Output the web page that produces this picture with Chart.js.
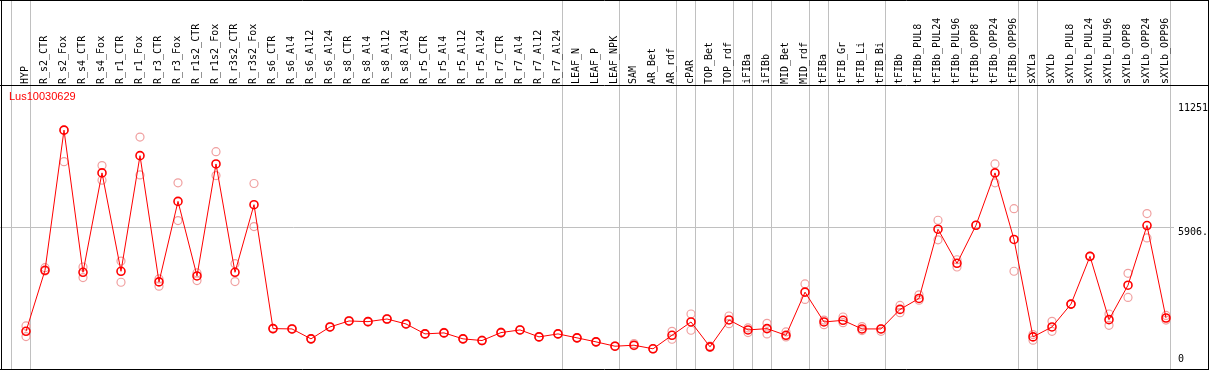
<!DOCTYPE html>
<html>
<head>
<meta charset="utf-8">
<script src="https://cdn.jsdelivr.net/npm/chart.js@4.4.1/dist/chart.umd.min.js"></script>
<style>
  html, body { margin: 0; padding: 0; background: #fff; }
  #wrap { width: 1209px; height: 370px; position: relative; }
</style>
</head>
<body>
<div id="wrap"><canvas id="chart"></canvas></div>
<script>
const GENE_ID = "Lus10030629";

const SAMPLES = [
  "HYP", "R_s2_CTR", "R_s2_Fox", "R_s4_CTR", "R_s4_Fox", "R_r1_CTR", "R_r1_Fox",
  "R_r3_CTR", "R_r3_Fox", "R_r1s2_CTR", "R_r1s2_Fox", "R_r3s2_CTR", "R_r3s2_Fox",
  "R_s6_CTR", "R_s6_Al4", "R_s6_Al12", "R_s6_Al24", "R_s8_CTR", "R_s8_Al4",
  "R_s8_Al12", "R_s8_Al24", "R_r5_CTR", "R_r5_Al4", "R_r5_Al12", "R_r5_Al24",
  "R_r7_CTR", "R_r7_Al4", "R_r7_Al12", "R_r7_Al24", "LEAF_N", "LEAF_P", "LEAF_NPK",
  "SAM", "AR_Bet", "AR_rdf", "cPAR", "TOP_Bet", "TOP_rdf", "iFIBa", "iFIBb",
  "MID_Bet", "MID_rdf", "tFIBa", "tFIB_Gr", "tFIB_Li", "tFIB_Bi", "tFIBb",
  "tFIBb_PUL8", "tFIBb_PUL24", "tFIBb_PUL96", "tFIBb_OPP8", "tFIBb_OPP24", "tFIBb_OPP96",
  "sXYLa", "sXYLb", "sXYLb_PUL8", "sXYLb_PUL24", "sXYLb_PUL96", "sXYLb_OPP8",
  "sXYLb_OPP24", "sXYLb_OPP96",
];

// mean expression per sample
const MEAN_VALUES = [
  1419, 4036, 10045, 3950, 8212, 3993, 8950, 3537, 6990, 3793, 8595, 3950, 6848,
  1534, 1521, 1095, 1606, 1862, 1833, 1947, 1734, 1308, 1351, 1095, 1023,
  1364, 1478, 1180, 1308, 1138, 966, 780,
  823, 669, 1249, 1819, 753, 1905, 1478, 1534, 1249, 3098, 1819, 1890, 1521, 1521,
  2358, 2827, 5796, 4334, 5967, 8212, 5357,
  1180, 1606, 2586, 4633, 1918, 3396, 5953, 1989,
];

// replicates (upper / lower)
const REP_HIGH = [
  1649, 4148, 10045, 4177, 8524, 4432, 9747, 3665, 7785, 3921, 9120, 4319, 7757,
  1550, 1540, 1110, 1620, 1880, 1850, 1960, 1750, 1320, 1370, 1110, 1040,
  1380, 1490, 1195, 1320, 1150, 980, 795,
  895, 680, 1419, 2161, 780, 2076, 1564, 1762, 1393, 3452, 1900, 2033, 1620, 1521,
  2529, 2983, 6180, 4488, 5967, 8595, 6678,
  1279, 1847, 2586, 4633, 2161, 3907, 6465, 2100,
];

const REP_LOW = [
  1193, 4000, 8694, 3722, 7898, 3523, 8126, 3353, 6167, 3594, 8098, 3551, 5911,
  1520, 1505, 1080, 1590, 1845, 1815, 1930, 1720, 1295, 1335, 1080, 1010,
  1350, 1465, 1165, 1295, 1125, 950, 770,
  800, 660, 1078, 1464, 730, 1747, 1364, 1308, 1180, 2785, 1705, 1790, 1450, 1420,
  2216, 2750, 5341, 4177, 5967, 7785, 3993,
  1037, 1419, 2586, 4633, 1677, 2870, 5424, 1900,
];

// samples after which a group separator is drawn (-1 = left edge)
const GROUP_BREAKS = [-1, 0, 28, 31, 34, 35, 37, 38, 39, 41, 42, 45, 52, 53, 60];

const Y_MAX = 11251;
const Y_TICKS = [0, 5906, 11251];
const Y_TICK_LABELS = ["0", "5906.", "11251"];

function hline(ctx, x1, x2, y) {
  ctx.beginPath();
  ctx.moveTo(x1, y);
  ctx.lineTo(x2, y);
  ctx.stroke();
}

function vline(ctx, x, y1, y2) {
  ctx.beginPath();
  ctx.moveTo(x, y1);
  ctx.lineTo(x, y2);
  ctx.stroke();
}

const framePlugin = {
  id: "frame",
  beforeDraw(chart) {
    const { ctx, width, height } = chart;
    const x = chart.scales.x;
    const y = chart.scales.y;
    ctx.save();
    ctx.fillStyle = "#fff";
    ctx.fillRect(0, 0, width, height);
    ctx.strokeStyle = "#c0c0c0";
    ctx.lineWidth = 1;
    GROUP_BREAKS.forEach((i) => {
      const px = Math.round(x.getPixelForValue(i) + 4) + 0.5;
      vline(ctx, px, 0, height);
    });
    const gy = Math.round(y.getPixelForValue(Y_TICKS[1])) + 0.5;
    hline(ctx, 0, x.right + 8, gy);
    ctx.restore();
  },
  afterDraw(chart) {
    const { ctx, width, height } = chart;
    const y = chart.scales.y;
    ctx.save();
    ctx.strokeStyle = "#000";
    ctx.lineWidth = 1;
    hline(ctx, 0, width, 0.5);
    hline(ctx, 0, width, 85.5);
    hline(ctx, 0, width, height - 0.5);
    vline(ctx, 1.5, 0, height);
    vline(ctx, width - 0.5, 0, height);

    ctx.fillStyle = "#ff0000";
    ctx.font = "11px 'Liberation Sans', Arial, sans-serif";
    ctx.textBaseline = "middle";
    ctx.textAlign = "left";
    ctx.fillText(GENE_ID, 9, 97);

    ctx.fillStyle = "#000";
    ctx.font = "10px 'DejaVu Sans Mono', monospace";
    Y_TICKS.forEach((v, k) => {
      const py = y.getPixelForValue(v);
      if (v === 0) {
        ctx.textBaseline = "bottom";
        ctx.fillText(Y_TICK_LABELS[k], 1178, py);
      } else {
        ctx.textBaseline = "top";
        ctx.fillText(Y_TICK_LABELS[k], 1178, py + 1);
      }
    });
    ctx.restore();
  },
};

const replicate = (data) => ({
  data,
  showLine: false,
  pointRadius: 4,
  pointBorderWidth: 1.2,
  pointBorderColor: "#f0a0a0",
  pointBackgroundColor: "rgba(0,0,0,0)",
});

new Chart(document.getElementById("chart"), {
  type: "line",
  data: {
    labels: SAMPLES,
    datasets: [
      {
        data: MEAN_VALUES,
        borderColor: "#ff0000",
        borderWidth: 1,
        tension: 0,
        pointRadius: 4,
        pointBorderWidth: 1.6,
        pointBorderColor: "#ff0000",
        pointBackgroundColor: "rgba(0,0,0,0)",
      },
      replicate(REP_HIGH),
      replicate(REP_LOW),
    ],
  },
  options: {
    responsive: true,
    maintainAspectRatio: false,
    animation: false,
    devicePixelRatio: 1,
    layout: { padding: { left: 26, right: 43, top: 0, bottom: 4 } },
    plugins: {
      legend: { display: false },
      tooltip: { enabled: false },
      title: { display: false },
    },
    scales: {
      x: {
        type: "category",
        position: "top",
        offset: false,
        grid: { display: false, drawTicks: false },
        border: { display: false },
        ticks: {
          autoSkip: false,
          minRotation: 90,
          maxRotation: 90,
          padding: 18,
          labelOffset: 11,
          color: "#000",
          font: { family: "'DejaVu Sans Mono', monospace", size: 10 },
        },
        afterFit(scale) {
          scale.height = 102;
          scale.paddingLeft = 0;
          scale.paddingRight = 0;
        },
      },
      y: { type: "linear", display: false, min: 0, max: Y_MAX },
    },
  },
  plugins: [framePlugin],
});
</script>
</body>
</html>
